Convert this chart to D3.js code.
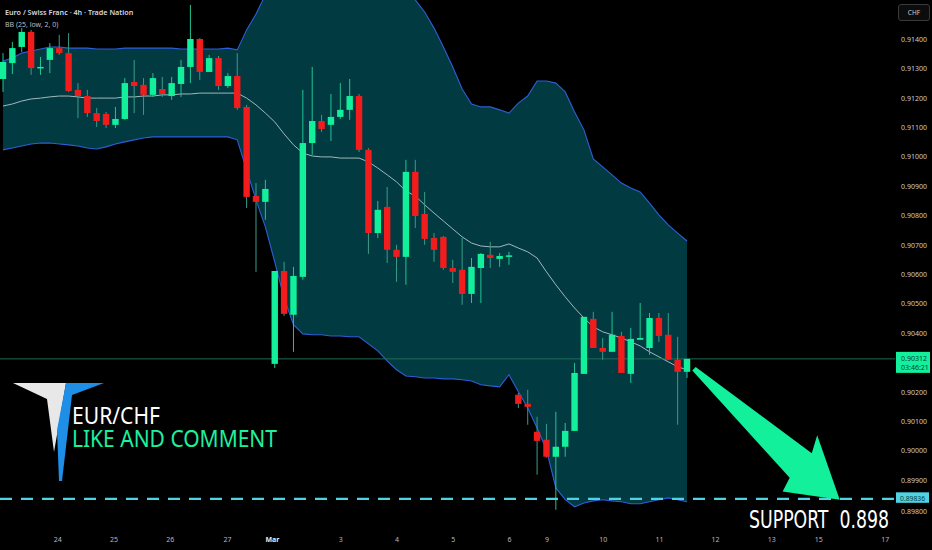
<!DOCTYPE html>
<html>
<head>
<meta charset="utf-8">
<script src="https://cdn.jsdelivr.net/npm/d3@7"></script>
<style>
  html, body { margin: 0; padding: 0; background: #000; }
  svg { display: block; }
</style>
</head>
<body>
<svg id="chart" width="932" height="550"></svg>
<script>
// 4h EUR/CHF candles
const opens = [0.91264,0.91318,0.91373,0.91424,0.91301,0.91329,0.91369,0.91352,0.91227,0.91206,
  0.91148,0.91145,0.91108,0.91128,0.91254,0.91244,0.91210,0.91230,0.91206,0.91247,
  0.91305,0.91400,0.91288,0.91335,0.91240,0.91274,0.91169,0.90866,0.90846,0.90295,
  0.90611,0.90462,0.90591,0.91046,0.91121,0.91108,0.91135,0.91159,0.91206,0.91023,
  0.90740,0.90829,0.90683,0.90659,0.90948,0.90805,0.90723,0.90727,0.90621,0.90615,
  0.90533,0.90621,0.90666,0.90652,0.90662,0.90190,0.90159,0.90064,0.90037,0.89979,
  0.90013,0.90067,0.90261,0.90448,0.90349,0.90336,0.90390,0.90261,0.90377,0.90349,
  0.90451,0.90394,0.90309,0.90268];
const highs = [0.91352,0.91390,0.91437,0.91431,0.91339,0.91386,0.91414,0.91420,0.91250,0.91227,
  0.91165,0.91152,0.91169,0.91267,0.91329,0.91267,0.91284,0.91271,0.91271,0.91329,
  0.91516,0.91403,0.91346,0.91342,0.91284,0.91352,0.91176,0.90910,0.90921,0.90611,
  0.90642,0.90625,0.91227,0.91305,0.91142,0.91213,0.91250,0.91264,0.91213,0.91029,
  0.90849,0.90897,0.90700,0.90989,0.90989,0.90880,0.90740,0.90730,0.90649,0.90723,
  0.90655,0.90672,0.90710,0.90672,0.90676,0.90196,0.90207,0.90115,0.90091,0.90132,
  0.90094,0.90298,0.90455,0.90472,0.90383,0.90472,0.90404,0.90417,0.90502,0.90468,
  0.90468,0.90468,0.90387,0.90312];
const lows = [0.91220,0.91281,0.91356,0.91278,0.91278,0.91284,0.91346,0.91220,0.91131,0.91135,
  0.91101,0.91097,0.91097,0.91125,0.91148,0.91142,0.91203,0.91203,0.91193,0.91203,
  0.91250,0.91261,0.91288,0.91227,0.91233,0.91159,0.90825,0.90608,0.90785,0.90281,
  0.90458,0.90336,0.90581,0.91006,0.91084,0.91053,0.91128,0.91125,0.91016,0.90669,
  0.90723,0.90638,0.90574,0.90564,0.90757,0.90700,0.90642,0.90615,0.90570,0.90496,
  0.90502,0.90502,0.90621,0.90625,0.90632,0.90145,0.90088,0.89918,0.89976,0.89799,
  0.89979,0.90067,0.90261,0.90349,0.90309,0.90336,0.90264,0.90230,0.90377,0.90326,
  0.90370,0.90309,0.90088,0.90247];
const closes = [0.91322,0.91369,0.91424,0.91301,0.91305,0.91369,0.91352,0.91223,0.91206,0.91148,
  0.91121,0.91108,0.91128,0.91250,0.91240,0.91210,0.91267,0.91213,0.91250,0.91305,
  0.91400,0.91288,0.91335,0.91240,0.91274,0.91165,0.90863,0.90846,0.90890,0.90611,
  0.90465,0.90594,0.91046,0.91121,0.91094,0.91135,0.91159,0.91206,0.91023,0.90740,
  0.90819,0.90683,0.90659,0.90948,0.90798,0.90720,0.90683,0.90621,0.90608,0.90533,
  0.90625,0.90669,0.90655,0.90662,0.90664,0.90159,0.90149,0.90033,0.89979,0.90013,
  0.90067,0.90264,0.90455,0.90349,0.90336,0.90394,0.90264,0.90380,0.90383,0.90451,
  0.90390,0.90309,0.90268,0.90312];

// BB (25, low, 2, 0) as drawn
const bbUpper = [0.91325,0.91335,0.91352,0.91359,0.91366,0.91373,0.91373,0.91369,0.91369,0.91369,
  0.91366,0.91366,0.91366,0.91369,0.91369,0.91369,0.91369,0.91369,0.91369,0.91366,
  0.91366,0.91366,0.91366,0.91366,0.91369,0.91363,0.91431,0.91485,0.91550,0.91635,
  0.91737,0.91839,0.91907,0.91941,0.91958,0.91958,0.91941,0.91924,0.91907,0.91873,
  0.91822,0.91771,0.91703,0.91618,0.91533,0.91492,0.91437,0.91373,0.91305,0.91230,
  0.91179,0.91169,0.91169,0.91159,0.91148,0.91182,0.91206,0.91257,0.91257,0.91250,
  0.91220,0.91152,0.91091,0.90992,0.90965,0.90938,0.90910,0.90893,0.90880,0.90842,
  0.90802,0.90768,0.90740,0.90713];
const bbMiddle = [0.91172,0.91179,0.91189,0.91196,0.91199,0.91203,0.91206,0.91206,0.91203,0.91199,
  0.91199,0.91199,0.91199,0.91203,0.91203,0.91206,0.91206,0.91210,0.91210,0.91213,
  0.91213,0.91216,0.91216,0.91216,0.91216,0.91216,0.91199,0.91176,0.91148,0.91118,
  0.91077,0.91040,0.91012,0.91002,0.90999,0.90999,0.90995,0.90995,0.90995,0.90982,
  0.90961,0.90938,0.90914,0.90883,0.90866,0.90836,0.90808,0.90781,0.90754,0.90727,
  0.90706,0.90696,0.90693,0.90693,0.90703,0.90689,0.90676,0.90655,0.90608,0.90564,
  0.90523,0.90485,0.90451,0.90421,0.90404,0.90394,0.90383,0.90370,0.90356,0.90336,
  0.90319,0.90302,0.90285,0.90275];
const bbLower = [0.91023,0.91029,0.91036,0.91043,0.91046,0.91046,0.91043,0.91040,0.91036,0.91029,
  0.91026,0.91033,0.91043,0.91050,0.91057,0.91063,0.91067,0.91067,0.91067,0.91067,
  0.91067,0.91067,0.91067,0.91067,0.91067,0.91057,0.90955,0.90853,0.90761,0.90642,
  0.90519,0.90428,0.90397,0.90394,0.90394,0.90390,0.90390,0.90387,0.90387,0.90363,
  0.90339,0.90305,0.90275,0.90254,0.90251,0.90247,0.90247,0.90244,0.90244,0.90241,
  0.90237,0.90224,0.90220,0.90217,0.90258,0.90200,0.90145,0.90077,0.90003,0.89873,
  0.89833,0.89809,0.89822,0.89829,0.89833,0.89829,0.89826,0.89819,0.89819,0.89826,
  0.89833,0.89839,0.89833,0.89826];

const priceTicks = [0.914,0.913,0.912,0.911,0.910,0.909,0.908,0.907,0.906,0.905,0.904,0.902,0.901,0.900,0.899,0.898];
const timeLabels = ["24","25","26","27","Mar","3","4","5","6","9","10","11","12","13","15","17"];
const timeTickIdx = [5.8,11.8,17.8,23.9,28.7,36,42,48,54,58,64,70,76,82,87,94.1];

const lastPrice = 0.90312;
const countdown = "03:46:21";
const supportPrice = 0.89836;
const arrowTipIdx = 89.3;

const GREEN = "#12f09c", RED = "#f21c1c";

const svg = d3.select("#chart");
const plotRight = 895;

const x = d3.scaleLinear().domain([0, 73]).range([3, 3 + 73 * 9.37]);
const y = d3.scaleLinear().domain([0.898, 0.914]).range([509.4, 39]);

const idx = d3.range(opens.length);

// bollinger fill + lines
const plot = svg.append("g");
plot.append("path")
  .datum(idx)
  .attr("fill", "#023a41")
  .attr("d", d3.area().x(i => x(i)).y0(i => y(bbLower[i])).y1(i => y(bbUpper[i])));

const bandLine = arr => d3.line().x(i => x(i)).y(i => y(arr[i]));
plot.append("path").datum(idx).attr("fill", "none").attr("stroke", "#2d5fd8").attr("stroke-width", 1.1).attr("d", bandLine(bbUpper));
plot.append("path").datum(idx).attr("fill", "none").attr("stroke", "#2d5fd8").attr("stroke-width", 1.1).attr("d", bandLine(bbLower));
plot.append("path").datum(idx).attr("fill", "none").attr("stroke", "#9fb9bb").attr("stroke-width", 1).attr("d", bandLine(bbMiddle));

// last price line
plot.append("line")
  .attr("x1", 0).attr("x2", plotRight)
  .attr("y1", y(lastPrice)).attr("y2", y(lastPrice))
  .attr("stroke", "#1d6b58").attr("stroke-width", 1);

// candles
plot.selectAll(".wick").data(idx).join("line")
  .attr("class", "wick")
  .attr("x1", i => x(i)).attr("x2", i => x(i))
  .attr("y1", i => y(highs[i])).attr("y2", i => y(lows[i]))
  .attr("stroke", i => closes[i] >= opens[i] ? "#22c495" : "#3a9c8a")
  .attr("stroke-width", 1);

plot.selectAll(".body").data(idx).join("rect")
  .attr("class", "body")
  .attr("x", i => x(i) - 3.2)
  .attr("width", 6.4)
  .attr("y", i => y(Math.max(opens[i], closes[i])))
  .attr("height", i => Math.max(1.5, Math.abs(y(opens[i]) - y(closes[i]))))
  .attr("fill", i => closes[i] >= opens[i] ? GREEN : RED);

// support dashed line
plot.append("line")
  .attr("x1", 0).attr("x2", plotRight)
  .attr("y1", y(supportPrice)).attr("y2", y(supportPrice))
  .attr("stroke", "#4fd3e3").attr("stroke-width", 2.2)
  .attr("stroke-dasharray", "12 9");

// big arrow from last candle to support
const tail = [x(73) + 7, y(bbMiddle[73]) - 1];
const tip = [x(arrowTipIdx), y(supportPrice) + 1];
const dx = tip[0] - tail[0], dy = tip[1] - tail[1];
const L = Math.hypot(dx, dy);
const u = [dx / L, dy / L], n = [-u[1], u[0]];
const at = (a, c) => [tail[0] + u[0] * a + n[0] * c, tail[1] + u[1] * a + n[1] * c];
const headBase = L - 52;
const arrowPts = [at(0, -2.5), at(headBase, -16), at(headBase - 8, -33), at(L, 0),
  at(headBase + 4, 32), at(headBase, 17), at(0, 2.5)];
svg.append("path")
  .attr("d", d3.line()(arrowPts) + "Z")
  .attr("fill", GREEN);

// price axis
const yAxis = svg.append("g")
  .attr("transform", `translate(${plotRight + 6},0)`)
  .call(d3.axisRight(y).tickValues(priceTicks).tickFormat(d3.format(".5f")).tickSize(0).tickPadding(0));
yAxis.select(".domain").remove();
yAxis.selectAll("text")
  .attr("fill", "#c9ccd3")
  .style("font-family", "'Noto Sans', sans-serif")
  .style("font-size", "7px");
yAxis.selectAll(".tick").filter(d => d === 0.898).select("text").attr("dy", "0.6em");

// time axis
const xAxis = svg.append("g")
  .attr("transform", "translate(0,537)")
  .call(d3.axisBottom(x).tickValues(timeTickIdx).tickFormat((d, i) => timeLabels[i]).tickSize(0).tickPadding(0));
xAxis.select(".domain").remove();
xAxis.selectAll("text")
  .attr("fill", (d, i) => timeLabels[i] === "Mar" ? "#e6e8ec" : "#b6b9c0")
  .style("font-weight", (d, i) => timeLabels[i] === "Mar" ? "bold" : "normal")
  .style("font-family", "'Noto Sans', sans-serif")
  .style("font-size", "7px");

// currency button
svg.append("rect")
  .attr("x", 898.5).attr("y", 4.5).attr("width", 31).attr("height", 16).attr("rx", 2.5)
  .attr("fill", "#0c0c0c").attr("stroke", "#3a3a3a");
svg.append("text")
  .attr("x", 914).attr("y", 15)
  .attr("text-anchor", "middle")
  .attr("fill", "#c9ccd3")
  .style("font-family", "'Noto Sans', sans-serif")
  .style("font-size", "6.5px")
  .text("CHF");

// last price badge
const lp = y(lastPrice);
svg.append("rect")
  .attr("x", 896).attr("y", lp - 7).attr("width", 34).attr("height", 21)
  .attr("fill", GREEN);
svg.append("text")
  .attr("x", 901).attr("y", lp + 2)
  .attr("fill", "#0a3d2c")
  .style("font-family", "'Noto Sans', sans-serif").style("font-size", "7px")
  .text(d3.format(".5f")(lastPrice));
svg.append("text")
  .attr("x", 901).attr("y", lp + 11)
  .attr("fill", "#0a3d2c")
  .style("font-family", "'Noto Sans', sans-serif").style("font-size", "7px")
  .text(countdown);

// support badge
const sp = y(supportPrice);
svg.append("rect")
  .attr("x", 896).attr("y", sp - 6.5).attr("width", 33).attr("height", 10.5)
  .attr("fill", "#4fd3e3");
svg.append("text")
  .attr("x", 900).attr("y", sp + 1.8)
  .attr("fill", "#0b3a44")
  .style("font-family", "'Noto Sans', sans-serif").style("font-size", "6.8px")
  .text(d3.format(".5f")(supportPrice));

// header
svg.append("text")
  .attr("x", 5).attr("y", 15)
  .attr("fill", "#d6d9e0")
  .style("font-family", "'Noto Sans', sans-serif").style("font-size", "7.2px").style("font-weight", "600")
  .text("Euro / Swiss Franc · 4h · Trade Nation");
svg.append("text")
  .attr("x", 5).attr("y", 27)
  .attr("fill", "#b8bbc2")
  .style("font-family", "'Noto Sans', sans-serif").style("font-size", "7px")
  .text("BB (25, low, 2, 0)");

// logo
svg.append("path")
  .attr("d", "M13,383 L66,383 L54,452 L47,399 Z")
  .attr("fill", "#e8e8e8");
svg.append("path")
  .attr("d", "M66,383 L104,383 L72,395 L62,481 L59,481 L57,430 Z")
  .attr("fill", "#1f8ee6");

svg.append("text")
  .attr("x", 72).attr("y", 424)
  .attr("fill", "#ffffff")
  .attr("textLength", 88).attr("lengthAdjust", "spacingAndGlyphs")
  .style("font-family", "'Noto Sans', sans-serif").style("font-size", "23px")
  .text("EUR/CHF");
svg.append("text")
  .attr("x", 72).attr("y", 447)
  .attr("fill", "#1ef09e")
  .attr("textLength", 205).attr("lengthAdjust", "spacingAndGlyphs")
  .style("font-family", "'Noto Sans', sans-serif").style("font-size", "23px")
  .text("LIKE AND COMMENT");

svg.append("text")
  .attr("x", 749).attr("y", 528)
  .attr("fill", "#ffffff")
  .attr("textLength", 140).attr("lengthAdjust", "spacingAndGlyphs")
  .style("font-family", "'DejaVu Sans Condensed', 'Noto Sans', sans-serif").style("font-size", "24px")
  .style("white-space", "pre")
  .text("SUPPORT  " + supportPrice.toFixed(3));
</script>
</body>
</html>
